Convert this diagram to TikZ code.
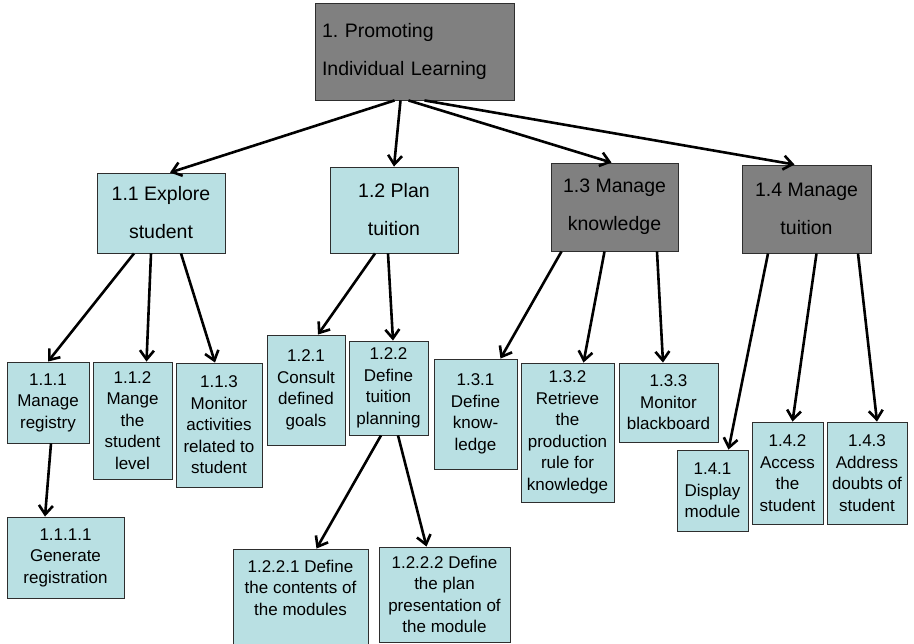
\documentclass[tikz,border=0pt]{standalone}
\usepackage{fontspec}
\setmainfont{Liberation Sans}
\usetikzlibrary{arrows.meta}
\frenchspacing

\definecolor{boxcyan}{HTML}{B9E0E3}
\definecolor{boxgray}{HTML}{808080}
\definecolor{edgegray}{HTML}{2E2E2E}

\tikzset{
  topbox/.style={draw=edgegray, line width=0.9pt, inner sep=0pt, align=center,
    font=\fontsize{19.5}{38}\selectfont},
  lowbox/.style={draw=edgegray, line width=0.9pt, fill=boxcyan, inner sep=0pt,
    align=center, font=\fontsize{17}{21.5}\selectfont},
  lowtext/.style={inner sep=0pt, align=center, font=\fontsize{17}{21.5}\selectfont},
  link/.style={line width=2.6pt, -{Straight Barb[length=9pt,width=14pt]}}
}

\begin{document}
\begin{tikzpicture}[x=1pt,y=-1pt]
\useasboundingbox (0,0) rectangle (914,644);

% root
\node[topbox, fill=boxgray, align=left, text width=185pt, inner xsep=7pt,
      minimum height=97pt] (root) at (414.5,51.5)
  {1. Promoting\\Individual Learning};

% second level
\node[topbox, fill=boxcyan, minimum width=128pt, minimum height=80pt] (n11) at (161,213) {1.1 Explore\\student};
\node[topbox, fill=boxcyan, minimum width=128pt, minimum height=86pt] (n12) at (394,210) {1.2 Plan\\tuition};
\node[topbox, fill=boxgray, minimum width=127pt, minimum height=88pt] (n13) at (614.5,207) {1.3 Manage\\knowledge};
\node[topbox, fill=boxgray, minimum width=129pt, minimum height=88pt] (n14) at (806.5,209) {1.4 Manage\\tuition};

% third level
\node[lowbox, minimum width=82pt, minimum height=81pt] (n111) at (48,402.5) {1.1.1\\Manage\\registry};
\node[lowbox, minimum width=79pt, minimum height=117pt] (n112) at (132.5,420.5) {1.1.2\\Mange\\the\\student\\level};
\node[lowbox, minimum width=86pt, minimum height=124pt] (n113) at (219,425) {1.1.3\\Monitor\\activities\\related to\\student};
\node[lowbox, minimum width=78pt, minimum height=110pt] (n121) at (306,390) {1.2.1\\Consult\\defined\\goals};
\node[lowbox, minimum width=79pt, minimum height=94pt] (n122) at (388.5,388) {1.2.2\\Define\\tuition\\planning};
\node[lowbox, minimum width=83pt, minimum height=110pt] (n131) at (475.5,414) {1.3.1\\Define\\know-\\ledge};
\node[lowbox, minimum width=93pt, minimum height=139pt] (n132) at (567.5,432.5) {1.3.2\\Retrieve\\the\\production\\rule for\\knowledge};
\node[lowbox, minimum width=99pt, minimum height=79pt] (n133) at (668.5,402.5) {1.3.3\\Monitor\\blackboard};
\node[lowbox, minimum width=71pt, minimum height=81pt] (n141) at (712.5,490.5) {1.4.1\\Display\\module};
\node[lowbox, minimum width=71pt, minimum height=102pt] (n142) at (787.5,473) {1.4.2\\Access\\the\\student};
\node[lowbox, minimum width=80pt, minimum height=102pt] (n143) at (867,473) {1.4.3\\Address\\doubts of\\student};

% fourth level
\node[lowbox, minimum width=117pt, minimum height=81pt] (n1111) at (65.5,557.5) {1.1.1.1\\Generate\\registration};
\node[lowbox, minimum width=135pt, minimum height=121pt] (n1221) at (300.5,609.5) {};
\node[lowtext, anchor=north] at ([yshift=-11pt]n1221.north) {1.2.2.1 Define\\the contents of\\the modules};
\node[lowbox, minimum width=131pt, minimum height=95pt] (n1222) at (444.5,594.5) {1.2.2.2 Define\\the plan\\presentation of\\the module};

% connectors
\draw[link] ([xshift=-20pt]root.south) -- ([xshift=9pt]n11.north);
\draw[link] ([xshift=-14pt]root.south) -- ([xshift=0pt]n12.north);
\draw[link] ([xshift=-6pt]root.south) -- ([xshift=-3pt]n13.north);
\draw[link] ([xshift=10pt]root.south) -- ([xshift=-12pt]n14.north);

\draw[link] ([xshift=-27pt]n11.south) -- ([xshift=0pt]n111.north);
\draw[link] ([xshift=-10pt]n11.south) -- ([xshift=14pt]n112.north);
\draw[link] ([xshift=20pt]n11.south) -- ([xshift=-4pt]n113.north);

\draw[link] ([xshift=-19pt]n12.south) -- ([xshift=12pt]n121.north);
\draw[link] ([xshift=-6pt]n12.south) -- ([xshift=4.5pt]n122.north);

\draw[link] ([xshift=-53pt]n13.south) -- ([xshift=25pt]n131.north);
\draw[link] ([xshift=-10pt]n13.south) -- ([xshift=16pt]n132.north);
\draw[link] ([xshift=42.5pt]n13.south) -- ([xshift=-5.5pt]n133.north);

\draw[link] ([xshift=-38.5pt]n14.south) -- ([xshift=16pt]n141.north);
\draw[link] ([xshift=10pt]n14.south) -- ([xshift=5pt]n142.north);
\draw[link] ([xshift=51.5pt]n14.south) -- ([xshift=10pt]n143.north);

\draw[link] ([xshift=3pt]n111.south) -- ([xshift=-20.5pt]n1111.north);
\draw[link] ([xshift=-7.5pt]n122.south) -- ([xshift=16pt]n1221.north);
\draw[link] ([xshift=9.5pt]n122.south) -- ([xshift=-18pt]n1222.north);
\end{tikzpicture}
\end{document}
